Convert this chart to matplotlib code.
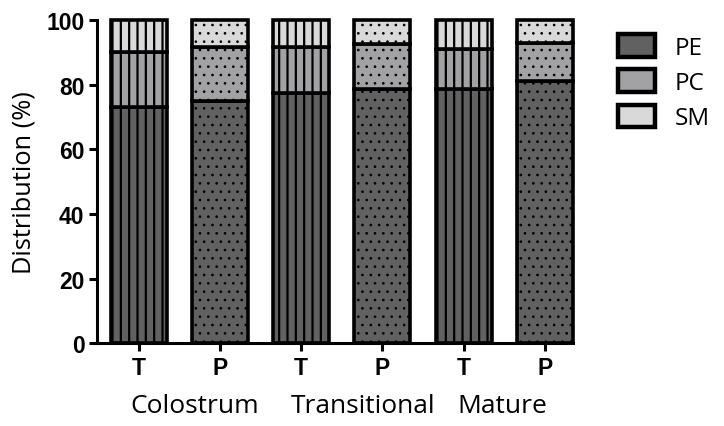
import matplotlib
matplotlib.use("Agg")
import matplotlib.pyplot as plt
from matplotlib.patches import Patch
from matplotlib.font_manager import FontProperties, fontManager

bar_labels = ["T", "P", "T", "P", "T", "P"]
groups = ["Colostrum", "Transitional", "Mature"]
series = ["PE", "PC", "SM"]
pe = [73, 75, 77.5, 78.5, 78.5, 81]
pc = [17, 16.5, 14, 14, 12.5, 12]
sm = [10, 8.5, 8.5, 7.5, 9, 7]

colors = ["#616161", "#a2a2a4", "#d9d9d9"]
hatches = ["||" if l == "T" else ".." for l in bar_labels]

# pick regular-width Liberation Sans Bold (Arial metric)
bold_file = None
for f in fontManager.ttflist:
    fn = f.fname.lower()
    if f.name == "Liberation Sans" and "narrow" not in fn and "bold" in fn and "italic" not in fn:
        bold_file = f.fname
        break
if bold_file:
    tickfont = FontProperties(fname=bold_file, size=16.5)
else:
    tickfont = FontProperties(family="DejaVu Sans", weight="bold", size=15)

plt.rcParams["hatch.linewidth"] = 1.6
fig = plt.figure(figsize=(7.24, 4.27), dpi=100)
ax = fig.add_axes([0.134, 0.194, 0.657, 0.757])

x = list(range(len(bar_labels)))
bottom = [0] * len(x)
for vals, col in zip([pe, pc, sm], colors):
    bars = ax.bar(x, vals, width=0.69, bottom=bottom, color=col,
                  edgecolor="black", linewidth=2.6, clip_on=False, zorder=2)
    for b, h in zip(bars, hatches):
        b.set_hatch(h)
        if h == ".." and hasattr(b, "set_hatch_linewidth"):
            b.set_hatch_linewidth(0.7)
    bottom = [b0 + v for b0, v in zip(bottom, vals)]

ax.set_xlim(-0.516, 5.345)
ax.set_ylim(0, 100)
ax.set_yticks([0, 20, 40, 60, 80, 100])
ax.set_xticks(x)
ax.set_xticklabels(bar_labels)
for s in ["top", "right"]:
    ax.spines[s].set_visible(False)
for s in ["left", "bottom"]:
    ax.spines[s].set_linewidth(2.2)
ax.tick_params(width=2.2, length=6, pad=3)
for t in ax.get_xticklabels() + ax.get_yticklabels():
    t.set_fontproperties(tickfont)
ax.set_ylabel("Distribution (%)", fontsize=18.3, family="Open Sans", labelpad=7)

gx = [0.69, 2.76, 4.48]
for g, xx in zip(groups, gx):
    ax.text(xx, -15.5, g, ha="center", va="top", fontsize=19, family="Open Sans",
            transform=ax.transData)

handles = [Patch(facecolor=c, edgecolor="black", linewidth=3.2) for c in colors]
leg = fig.legend(handles, series, loc="upper left", bbox_to_anchor=(0.853, 0.918),
                 frameon=False, prop={"family": "Open Sans", "size": 17.5},
                 handlelength=1.55, handleheight=1.05, labelspacing=0.4,
                 handletextpad=0.8, borderaxespad=0, borderpad=0)

fig.savefig("out.png", dpi=100)
